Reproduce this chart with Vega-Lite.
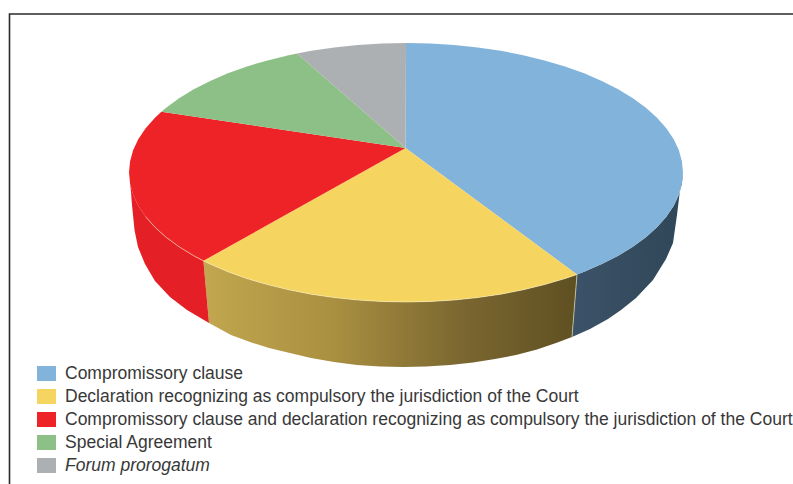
{
"$schema":"https://vega.github.io/schema/vega-lite/v6.json",
"width":793,"height":484,"padding":0,"autosize":{"type":"none"},"background":"white",
"config":{"view":{"stroke":null}},
"datasets":{
"frame":[{"x":9.5,"y":484,"i":0},{"x":9.5,"y":14,"i":1},{"x":793,"y":14,"i":2}],
"walls":[
{"part":"blue","i":0,"x":683,"y":172.5},{"part":"blue","i":1,"x":681.9,"y":183.8},{"part":"blue","i":2,"x":678.8,"y":195},{"part":"blue","i":3,"x":673.6,"y":206},{"part":"blue","i":4,"x":666.3,"y":216.8},{"part":"blue","i":5,"x":657,"y":227.3},{"part":"blue","i":6,"x":645.9,"y":237.3},{"part":"blue","i":7,"x":632.9,"y":246.8},{"part":"blue","i":8,"x":618.2,"y":255.8},{"part":"blue","i":9,"x":601.8,"y":264.1},{"part":"blue","i":10,"x":584.1,"y":271.7},{"part":"blue","i":11,"x":577,"y":274.5},{"part":"blue","i":12,"x":572,"y":337},{"part":"blue","i":13,"x":590,"y":329},{"part":"blue","i":14,"x":608,"y":319},{"part":"blue","i":15,"x":621,"y":310},{"part":"blue","i":16,"x":636,"y":298},{"part":"blue","i":17,"x":653,"y":280},{"part":"blue","i":18,"x":666,"y":259},{"part":"blue","i":19,"x":673,"y":243},{"part":"blue","i":20,"x":677,"y":215},{"part":"blue","i":21,"x":680,"y":190},
{"part":"yellow","i":0,"x":577,"y":274.5},{"part":"yellow","i":1,"x":565,"y":278.6},{"part":"yellow","i":2,"x":544.5,"y":284.6},{"part":"yellow","i":3,"x":523.2,"y":289.8},{"part":"yellow","i":4,"x":500.7,"y":294.2},{"part":"yellow","i":5,"x":477.7,"y":297.6},{"part":"yellow","i":6,"x":454.2,"y":300},{"part":"yellow","i":7,"x":430.1,"y":301.5},{"part":"yellow","i":8,"x":406,"y":302},{"part":"yellow","i":9,"x":381.9,"y":301.5},{"part":"yellow","i":10,"x":357.8,"y":300},{"part":"yellow","i":11,"x":334.3,"y":297.6},{"part":"yellow","i":12,"x":311.3,"y":294.2},{"part":"yellow","i":13,"x":288.8,"y":289.8},{"part":"yellow","i":14,"x":267.5,"y":284.6},{"part":"yellow","i":15,"x":247,"y":278.6},{"part":"yellow","i":16,"x":227.9,"y":271.7},{"part":"yellow","i":17,"x":210.2,"y":264.1},{"part":"yellow","i":18,"x":203.4,"y":260.8},{"part":"yellow","i":19,"x":209,"y":323},{"part":"yellow","i":20,"x":231,"y":335},{"part":"yellow","i":21,"x":250,"y":342},{"part":"yellow","i":22,"x":269,"y":348},{"part":"yellow","i":23,"x":290,"y":353},{"part":"yellow","i":24,"x":311,"y":358},{"part":"yellow","i":25,"x":334,"y":362},{"part":"yellow","i":26,"x":357,"y":365},{"part":"yellow","i":27,"x":380,"y":366.5},{"part":"yellow","i":28,"x":403,"y":367},{"part":"yellow","i":29,"x":426,"y":366.5},{"part":"yellow","i":30,"x":450,"y":365},{"part":"yellow","i":31,"x":473,"y":362.5},{"part":"yellow","i":32,"x":495,"y":359},{"part":"yellow","i":33,"x":516,"y":355},{"part":"yellow","i":34,"x":537,"y":349.5},{"part":"yellow","i":35,"x":556,"y":343},{"part":"yellow","i":36,"x":572,"y":337},
{"part":"red","i":0,"x":203.4,"y":260.8},{"part":"red","i":1,"x":193.8,"y":255.8},{"part":"red","i":2,"x":179.1,"y":246.8},{"part":"red","i":3,"x":166.1,"y":237.3},{"part":"red","i":4,"x":155,"y":227.3},{"part":"red","i":5,"x":145.7,"y":216.8},{"part":"red","i":6,"x":138.4,"y":206},{"part":"red","i":7,"x":133.2,"y":195},{"part":"red","i":8,"x":130.1,"y":183.8},{"part":"red","i":9,"x":131,"y":192},{"part":"red","i":10,"x":132,"y":205},{"part":"red","i":11,"x":134.5,"y":230},{"part":"red","i":12,"x":138,"y":247},{"part":"red","i":13,"x":145,"y":264},{"part":"red","i":14,"x":155,"y":281},{"part":"red","i":15,"x":170,"y":297},{"part":"red","i":16,"x":187,"y":310},{"part":"red","i":17,"x":209,"y":323}
],
"top":[
{"part":"Compromissory clause","i":0,"x":405.5,"y":148},{"part":"Compromissory clause","i":1,"x":406,"y":43},{"part":"Compromissory clause","i":2,"x":430.1,"y":43.5},{"part":"Compromissory clause","i":3,"x":454.2,"y":45},{"part":"Compromissory clause","i":4,"x":477.7,"y":47.4},{"part":"Compromissory clause","i":5,"x":500.7,"y":50.8},{"part":"Compromissory clause","i":6,"x":523.2,"y":55.2},{"part":"Compromissory clause","i":7,"x":544.5,"y":60.4},{"part":"Compromissory clause","i":8,"x":565,"y":66.4},{"part":"Compromissory clause","i":9,"x":584.1,"y":73.3},{"part":"Compromissory clause","i":10,"x":601.8,"y":80.9},{"part":"Compromissory clause","i":11,"x":618.2,"y":89.2},{"part":"Compromissory clause","i":12,"x":632.9,"y":98.2},{"part":"Compromissory clause","i":13,"x":645.9,"y":107.7},{"part":"Compromissory clause","i":14,"x":657,"y":117.7},{"part":"Compromissory clause","i":15,"x":666.3,"y":128.2},{"part":"Compromissory clause","i":16,"x":673.6,"y":139},{"part":"Compromissory clause","i":17,"x":678.8,"y":150},{"part":"Compromissory clause","i":18,"x":681.9,"y":161.2},{"part":"Compromissory clause","i":19,"x":683,"y":172.5},{"part":"Compromissory clause","i":20,"x":681.9,"y":183.8},{"part":"Compromissory clause","i":21,"x":678.8,"y":195},{"part":"Compromissory clause","i":22,"x":673.6,"y":206},{"part":"Compromissory clause","i":23,"x":666.3,"y":216.8},{"part":"Compromissory clause","i":24,"x":657,"y":227.3},{"part":"Compromissory clause","i":25,"x":645.9,"y":237.3},{"part":"Compromissory clause","i":26,"x":632.9,"y":246.8},{"part":"Compromissory clause","i":27,"x":618.2,"y":255.8},{"part":"Compromissory clause","i":28,"x":601.8,"y":264.1},{"part":"Compromissory clause","i":29,"x":584.1,"y":271.7},{"part":"Compromissory clause","i":30,"x":577,"y":274.5},
{"part":"Declaration recognizing as compulsory the jurisdiction of the Court","i":0,"x":405.5,"y":148},{"part":"Declaration recognizing as compulsory the jurisdiction of the Court","i":1,"x":577,"y":274.5},{"part":"Declaration recognizing as compulsory the jurisdiction of the Court","i":2,"x":565,"y":278.6},{"part":"Declaration recognizing as compulsory the jurisdiction of the Court","i":3,"x":544.5,"y":284.6},{"part":"Declaration recognizing as compulsory the jurisdiction of the Court","i":4,"x":523.2,"y":289.8},{"part":"Declaration recognizing as compulsory the jurisdiction of the Court","i":5,"x":500.7,"y":294.2},{"part":"Declaration recognizing as compulsory the jurisdiction of the Court","i":6,"x":477.7,"y":297.6},{"part":"Declaration recognizing as compulsory the jurisdiction of the Court","i":7,"x":454.2,"y":300},{"part":"Declaration recognizing as compulsory the jurisdiction of the Court","i":8,"x":430.1,"y":301.5},{"part":"Declaration recognizing as compulsory the jurisdiction of the Court","i":9,"x":406,"y":302},{"part":"Declaration recognizing as compulsory the jurisdiction of the Court","i":10,"x":381.9,"y":301.5},{"part":"Declaration recognizing as compulsory the jurisdiction of the Court","i":11,"x":357.8,"y":300},{"part":"Declaration recognizing as compulsory the jurisdiction of the Court","i":12,"x":334.3,"y":297.6},{"part":"Declaration recognizing as compulsory the jurisdiction of the Court","i":13,"x":311.3,"y":294.2},{"part":"Declaration recognizing as compulsory the jurisdiction of the Court","i":14,"x":288.8,"y":289.8},{"part":"Declaration recognizing as compulsory the jurisdiction of the Court","i":15,"x":267.5,"y":284.6},{"part":"Declaration recognizing as compulsory the jurisdiction of the Court","i":16,"x":247,"y":278.6},{"part":"Declaration recognizing as compulsory the jurisdiction of the Court","i":17,"x":227.9,"y":271.7},{"part":"Declaration recognizing as compulsory the jurisdiction of the Court","i":18,"x":210.2,"y":264.1},{"part":"Declaration recognizing as compulsory the jurisdiction of the Court","i":19,"x":203.4,"y":260.8},
{"part":"Compromissory clause and declaration recognizing as compulsory the jurisdiction of the Court","i":0,"x":405.5,"y":148},{"part":"Compromissory clause and declaration recognizing as compulsory the jurisdiction of the Court","i":1,"x":203.4,"y":260.8},{"part":"Compromissory clause and declaration recognizing as compulsory the jurisdiction of the Court","i":2,"x":193.8,"y":255.8},{"part":"Compromissory clause and declaration recognizing as compulsory the jurisdiction of the Court","i":3,"x":179.1,"y":246.8},{"part":"Compromissory clause and declaration recognizing as compulsory the jurisdiction of the Court","i":4,"x":166.1,"y":237.3},{"part":"Compromissory clause and declaration recognizing as compulsory the jurisdiction of the Court","i":5,"x":155,"y":227.3},{"part":"Compromissory clause and declaration recognizing as compulsory the jurisdiction of the Court","i":6,"x":145.7,"y":216.8},{"part":"Compromissory clause and declaration recognizing as compulsory the jurisdiction of the Court","i":7,"x":138.4,"y":206},{"part":"Compromissory clause and declaration recognizing as compulsory the jurisdiction of the Court","i":8,"x":133.2,"y":195},{"part":"Compromissory clause and declaration recognizing as compulsory the jurisdiction of the Court","i":9,"x":130.1,"y":183.8},{"part":"Compromissory clause and declaration recognizing as compulsory the jurisdiction of the Court","i":10,"x":129,"y":172.5},{"part":"Compromissory clause and declaration recognizing as compulsory the jurisdiction of the Court","i":11,"x":130.1,"y":161.2},{"part":"Compromissory clause and declaration recognizing as compulsory the jurisdiction of the Court","i":12,"x":133.2,"y":150},{"part":"Compromissory clause and declaration recognizing as compulsory the jurisdiction of the Court","i":13,"x":138.4,"y":139},{"part":"Compromissory clause and declaration recognizing as compulsory the jurisdiction of the Court","i":14,"x":145.7,"y":128.2},{"part":"Compromissory clause and declaration recognizing as compulsory the jurisdiction of the Court","i":15,"x":155,"y":117.7},{"part":"Compromissory clause and declaration recognizing as compulsory the jurisdiction of the Court","i":16,"x":161.4,"y":111.7},
{"part":"Special Agreement","i":0,"x":405.5,"y":148},{"part":"Special Agreement","i":1,"x":161.4,"y":111.7},{"part":"Special Agreement","i":2,"x":166.1,"y":107.7},{"part":"Special Agreement","i":3,"x":179.1,"y":98.2},{"part":"Special Agreement","i":4,"x":193.8,"y":89.2},{"part":"Special Agreement","i":5,"x":210.2,"y":80.9},{"part":"Special Agreement","i":6,"x":227.9,"y":73.3},{"part":"Special Agreement","i":7,"x":247,"y":66.4},{"part":"Special Agreement","i":8,"x":267.5,"y":60.4},{"part":"Special Agreement","i":9,"x":288.8,"y":55.2},{"part":"Special Agreement","i":10,"x":297,"y":53.4},
{"part":"Forum prorogatum","i":0,"x":405.5,"y":148},{"part":"Forum prorogatum","i":1,"x":297,"y":53.4},{"part":"Forum prorogatum","i":2,"x":311.3,"y":50.8},{"part":"Forum prorogatum","i":3,"x":334.3,"y":47.4},{"part":"Forum prorogatum","i":4,"x":357.8,"y":45},{"part":"Forum prorogatum","i":5,"x":381.9,"y":43.5},{"part":"Forum prorogatum","i":6,"x":406,"y":43}
]
},
"encoding":{
"x":{"field":"x","type":"quantitative","scale":{"domain":[0,793],"nice":false,"zero":false},"axis":null},
"y":{"field":"y","type":"quantitative","scale":{"domain":[484,0],"nice":false,"zero":false},"axis":null},
"order":{"field":"i","type":"quantitative"}
},
"layer":[
{"data":{"name":"frame"},"mark":{"type":"line","stroke":"#2a2a2a","strokeWidth":1.6}},
{"data":{"name":"walls"},"transform":[{"filter":"datum.part==='blue'"}],"mark":{"type":"line","filled":true,"strokeWidth":0,"fill":{"gradient":"linear","x1":0,"x2":1,"y1":0,"y2":0,"stops":[{"offset":0,"color":"#3b5268"},{"offset":1,"color":"#304759"}]}}},
{"data":{"name":"walls"},"transform":[{"filter":"datum.part==='yellow'"}],"mark":{"type":"line","filled":true,"strokeWidth":0,"fill":{"gradient":"linear","x1":0,"x2":1,"y1":0,"y2":0,"stops":[{"offset":0,"color":"#c2a74f"},{"offset":0.35,"color":"#a98f40"},{"offset":0.7,"color":"#7a6630"},{"offset":1,"color":"#5f5022"}]}}},
{"data":{"name":"walls"},"transform":[{"filter":"datum.part==='red'"}],"mark":{"type":"line","filled":true,"strokeWidth":0,"fill":"#e41f25"}},
{"data":{"name":"top"},"mark":{"type":"line","filled":true,"strokeWidth":0},
"encoding":{"color":{"field":"part","type":"nominal",
"scale":{"domain":["Compromissory clause","Declaration recognizing as compulsory the jurisdiction of the Court","Compromissory clause and declaration recognizing as compulsory the jurisdiction of the Court","Special Agreement","Forum prorogatum"],"range":["#82b3da","#f6d460","#ee2328","#8cc086","#adb0b2"]},
"legend":{"title":null,"orient":"none","legendX":37,"legendY":364,"symbolType":"M-1,-0.79H1V0.79H-1Z","symbolSize":361,"symbolStrokeWidth":0,"symbolOpacity":1,"labelFont":"Liberation Sans","labelFontSize":17.5,"labelColor":"#383838","labelLimit":800,"labelOffset":9,"rowPadding":5,"labelFontStyle":{"expr":"datum.label==='Forum prorogatum'?'italic':'normal'"}}}}},
{"data":{"name":"walls"},"transform":[{"filter":"(datum.part==='yellow'&&datum.i<=18)||(datum.part==='red'&&datum.i<=5)"}],"mark":{"type":"line","stroke":"#f7eebf","strokeWidth":0.8,"strokeOpacity":0.7},"encoding":{"detail":{"field":"part"}}},
{"data":{"name":"walls"},"transform":[{"filter":"datum.part==='blue'&&(datum.i===11||datum.i===12)"}],"mark":{"type":"line","stroke":"#d9d5b0","strokeWidth":0.9,"strokeOpacity":0.8}}
]
}
